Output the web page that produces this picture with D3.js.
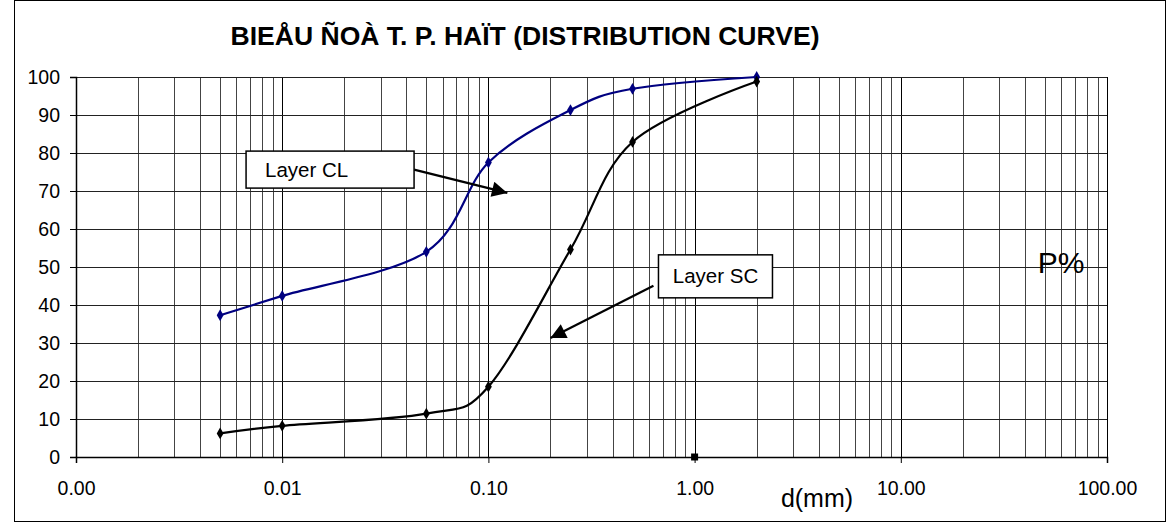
<!DOCTYPE html>
<html>
<head>
<meta charset="utf-8">
<script src="https://cdn.jsdelivr.net/npm/d3@7"></script>
<style>
	body { margin: 0; background: #fff; }
	svg { display: block; font-family: "Liberation Sans", Arial, sans-serif; }
</style>
</head>
<body>
<div id="chart"></div>
<script>
// grain size (mm) and percent passing
var sizes = [0.005, 0.01, 0.05, 0.1, 0.25, 0.5, 2];
var layerCL = [37.3, 42.4, 54.0, 77.5, 91.3, 96.9, 100];
var layerSC = [6.2, 8.2, 11.4, 18.5, 54.6, 82.9, 98.8];
var extraPoint = [{ d: 1, p: 0 }];
var xTicks = [0.001, 0.01, 0.1, 1, 10, 100];
var xTickLabels = ["0.00", "0.01", "0.10", "1.00", "10.00", "100.00"];
var yTicks = [0, 10, 20, 30, 40, 50, 60, 70, 80, 90, 100];

(function () {
	var svgwidth = 1170;
	var svgheight = 522;
	var left = 76, right = 1107, top = 77, bottom = 457;

	var svg = d3.select("#chart").append("svg")
		.attr("width", svgwidth)
		.attr("height", svgheight);

	// outer frame
	svg.append("rect")
		.attr("x", 14.5).attr("y", 0.5)
		.attr("width", 1151).attr("height", 521)
		.attr("fill", "#fff").attr("stroke", "#000");

	var x = d3.scaleLog().domain([0.001, 100]).range([left, right]);
	var y = d3.scaleLinear().domain([0, 100]).range([bottom, top]);

	// vertical grid: 1..9 for each decade
	var vlines = [];
	for (var e = -3; e < 2; e++) {
		for (var m = 1; m < 10; m++) vlines.push(m * Math.pow(10, e));
	}
	vlines.push(100);
	svg.append("g").selectAll("line").data(vlines).enter().append("line")
		.attr("x1", function (d) { return Math.round(x(d)) + 0.5; })
		.attr("x2", function (d) { return Math.round(x(d)) + 0.5; })
		.attr("y1", top).attr("y2", bottom)
		.attr("stroke", function (d, i) { return i % 9 == 0 ? "#000" : "#444"; })
		.attr("stroke-width", 1);

	svg.append("g").selectAll("line").data(yTicks).enter().append("line")
		.attr("x1", left).attr("x2", right)
		.attr("y1", function (d) { return Math.round(y(d)) + 0.5; })
		.attr("y2", function (d) { return Math.round(y(d)) + 0.5; })
		.attr("stroke", "#222");

	// axes
	var yAxis = svg.append("g")
		.attr("transform", "translate(" + left + ",0)")
		.call(d3.axisLeft(y).tickValues(yTicks).tickSize(6).tickPadding(10).tickFormat(d3.format("d")));
	var xAxis = svg.append("g")
		.attr("transform", "translate(0," + bottom + ")")
		.call(d3.axisBottom(x).tickValues(xTicks).tickSize(6).tickPadding(18)
			.tickFormat(function (d, i) { return xTickLabels[i]; }));
	[yAxis, xAxis].forEach(function (a) {
		a.select(".domain").attr("stroke", "#000").attr("stroke-width", 1.5);
		a.selectAll(".tick line").attr("stroke", "#000");
		a.selectAll("text").attr("fill", "#000").style("font-size", "19.5px")
			.style("font-family", "Liberation Sans, Arial, sans-serif");
	});

	// series
	var line = d3.line()
		.x(function (d) { return x(d[0]); })
		.y(function (d) { return y(d[1]); })
		.curve(d3.curveCatmullRom.alpha(0));
	var diamond = d3.symbol().type(d3.symbolDiamond).size(40);

	[{ vals: layerCL, color: "#000080" }, { vals: layerSC, color: "#000" }].forEach(function (s) {
		var pts = sizes.map(function (d, i) { return [d, s.vals[i]]; });
		svg.append("path").datum(pts)
			.attr("d", line)
			.attr("fill", "none")
			.attr("stroke", s.color)
			.attr("stroke-width", 2.2);
		svg.append("g").selectAll("path").data(pts).enter().append("path")
			.attr("d", diamond)
			.attr("transform", function (d) { return "translate(" + x(d[0]) + "," + y(d[1]) + ")"; })
			.attr("fill", s.color);
	});

	svg.selectAll(".extra").data(extraPoint).enter().append("rect")
		.attr("class", "extra")
		.attr("x", function (d) { return x(d.d) - 3.5; })
		.attr("y", function (d) { return y(d.p) - 3.5; })
		.attr("width", 7).attr("height", 7)
		.attr("fill", "#000");

	// callouts (positions in data units)
	var callouts = [
		{ text: "Layer CL", bx: 0.00668, by: 80.5, bw: 168, bh: 37, tx: 0.1236, ty: 69.5 },
		{ text: "Layer SC", bx: 0.668, by: 53.2, bw: 114, bh: 43, tx: 0.2, ty: 31.3 }
	];
	var defs = svg.append("defs");
	defs.append("marker")
		.attr("id", "arrow")
		.attr("viewBox", "0 0 10 10")
		.attr("refX", 10).attr("refY", 5)
		.attr("markerWidth", 8).attr("markerHeight", 7)
		.attr("markerUnits", "strokeWidth")
		.attr("orient", "auto")
		.append("path").attr("d", "M0,0 L10,5 L0,10 z").attr("fill", "#000");

	callouts.forEach(function (c, i) {
		var bx = x(c.bx), by = y(c.by);
		// arrow starts from the box edge
		var sx = i == 0 ? bx + c.bw : bx - 5;
		var sy = i == 0 ? by + c.bh / 2 : by + c.bh * 0.72;
		svg.append("line")
			.attr("x1", sx).attr("y1", sy)
			.attr("x2", x(c.tx)).attr("y2", y(c.ty))
			.attr("stroke", "#000").attr("stroke-width", 2.2)
			.attr("marker-end", "url(#arrow)");
		svg.append("rect")
			.attr("x", bx).attr("y", by)
			.attr("width", c.bw).attr("height", c.bh)
			.attr("fill", "#fff").attr("stroke", "#000").attr("stroke-width", 1.5);
		svg.append("text")
			.attr("x", bx + (i == 0 ? 19 : c.bw / 2))
			.attr("y", by + c.bh / 2 + 7)
			.attr("text-anchor", i == 0 ? "start" : "middle")
			.style("font-size", "20.5px")
			.text(c.text);
	});

	// titles
	svg.append("text")
		.attr("x", 525).attr("y", 45)
		.attr("text-anchor", "middle")
		.attr("textLength", 589)
		.attr("lengthAdjust", "spacingAndGlyphs")
		.style("font-size", "25px").style("font-weight", "bold")
		.text("BIEÅU ÑOÀ T. P. HAÏT (DISTRIBUTION CURVE)");
	svg.append("text")
		.attr("x", 817).attr("y", 507)
		.attr("text-anchor", "middle")
		.style("font-size", "25px")
		.text("d(mm)");
	svg.append("text")
		.attr("x", 1061).attr("y", 273)
		.attr("text-anchor", "middle")
		.style("font-size", "30px")
		.text("P%");
})();
</script>
</body>
</html>
